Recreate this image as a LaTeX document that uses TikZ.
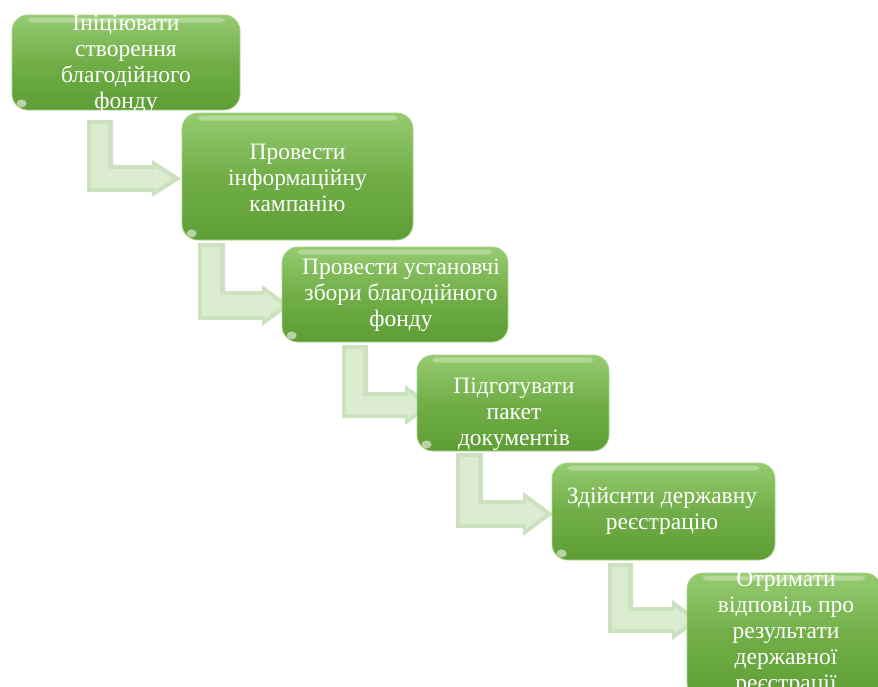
\documentclass[tikz,border=0pt]{standalone}
\usepackage{fontspec}
\setmainfont{Liberation Serif}
\definecolor{boxtop}{HTML}{96CB71}
\definecolor{boxmid}{HTML}{71AE47}
\definecolor{boxbot}{HTML}{5E9D35}
\definecolor{boxedge}{HTML}{A8D48A}
\definecolor{arrout}{HTML}{CCE1BD}
\definecolor{arrin}{HTML}{DCECD1}
\tikzset{
  stepbox/.style={rounded corners=16pt, top color=boxtop, bottom color=boxbot, middle color=boxmid,
    draw=boxedge, line width=0.8pt, inner sep=0pt},
  steptext/.style={text=white, align=center, font=\fontsize{23.5}{26}\selectfont, inner sep=0pt},
  arrowouter/.style={fill=arrout},
  arrowinner/.style={fill=arrin}
}
\newcommand{\bentarrow}[9]{%
  \path[arrowouter] (#1,#3) -- (#2,#3) -- (#2,#4) -- (#6,#4) -- (#6,#7) -- (#9,{(#4+#5)/2})
    -- (#6,#8) -- (#6,#5) -- (#1,#5) -- cycle;
  \path[arrowinner] ({#1+4},{#3+4}) -- ({#2-5},{#3+4}) -- ({#2-5},{#4+4}) -- ({#6+3},{#4+4})
    -- ({#6+3},{#7+7}) -- ({#9-8},{(#4+#5)/2}) -- ({#6+3},{#8-7}) -- ({#6+3},{#5-4})
    -- ({#1+4},{#5-4}) -- cycle;
}
\newcommand{\gloss}[1]{%
  \path[fill=white, fill opacity=0.3, rounded corners=4pt]
    ([xshift=16pt,yshift=-3pt]#1.north west) rectangle ([xshift=-16pt,yshift=-8pt]#1.north east);
  \path[fill=white, fill opacity=0.55] ([xshift=10pt,yshift=7pt]#1.south west) ellipse (5pt and 4pt);
}
\begin{document}
\begin{tikzpicture}[x=1pt,y=-1pt]
\useasboundingbox (0,0) rectangle (878,686);
\clip (0,0) rectangle (878,686);

% bent arrows
\bentarrow{87}{113}{120}{165}{192}{152}{160}{197}{181}
\bentarrow{198}{225}{243}{291}{320}{262}{285}{326}{290}
\bentarrow{342}{368}{345}{392}{418}{405}{385}{425}{433}
\bentarrow{456}{483}{453}{500}{528}{523}{492}{536}{553}
\bentarrow{608}{633}{563}{607}{633}{672}{600}{640}{700}

% boxes
\node[stepbox, minimum width=228pt, minimum height=95pt] (b1) at (126,62.5) {};
\node[stepbox, minimum width=231pt, minimum height=127pt] (b2) at (297.5,176.5) {};
\node[stepbox, minimum width=226pt, minimum height=95pt] (b3) at (395,294.5) {};
\node[stepbox, minimum width=192pt, minimum height=96pt] (b4) at (513,403) {};
\node[stepbox, minimum width=223pt, minimum height=97pt] (b5) at (663.5,511.5) {};
\node[stepbox, minimum width=194pt, minimum height=126pt] (b6) at (784,636) {};
\gloss{b1}\gloss{b2}\gloss{b3}\gloss{b4}\gloss{b5}\gloss{b6}

% texts
\node[steptext] (t1) at (126,64) {Ініціювати\\створення\\благодійного\\фонду};
\node[steptext] (t2) at (297.5,178) {Провести\\інформаційну\\кампанію};
\node[steptext] (t3) at (401,295) {Провести установчі\\збори благодійного\\фонду};
\node[steptext] (t4) at (514,414) {Підготувати\\пакет\\документів};
\node[steptext] (t5) at (662,511) {Здійснти державну\\реєстрацію};
\node[steptext] (t6) at (786,633) {Отримати\\відповідь про\\результати\\державної\\реєстрації};
\end{tikzpicture}
\end{document}
